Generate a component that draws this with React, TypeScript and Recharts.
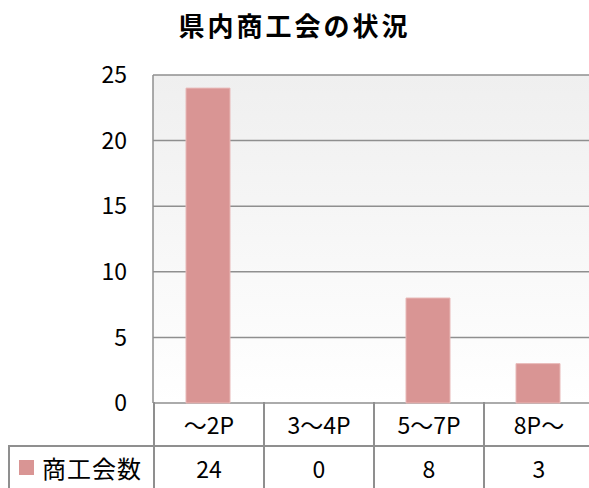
import { BarChart, Bar, XAxis, YAxis, CartesianGrid } from 'recharts';

const categories = ['～2P', '3～4P', '5～7P', '8P～'];
const counts = [24, 0, 8, 3];
const yTicks = [0, 5, 10, 15, 20, 25];
const seriesName = '商工会数';
const title = '県内商工会の状況';

const BAR = '#d99594';
const LINE = '#8f8f8f';
const FONT = "'Noto Sans CJK JP', 'Noto Sans', sans-serif";

const data = categories.map((c, i) => ({ category: c, count: counts[i] }));

const cellBase: React.CSSProperties = {
  boxSizing: 'border-box',
  display: 'flex',
  alignItems: 'center',
  justifyContent: 'center',
  fontSize: 23,
  color: '#000',
};

export default function App() {
  return (
    <div
      style={{
        position: 'absolute',
        left: 0,
        top: 0,
        width: 589,
        height: 488,
        overflow: 'hidden',
        background: '#fff',
        fontFamily: FONT,
      }}
    >
      <div
        style={{
          position: 'absolute',
          top: 6,
          left: 0,
          width: 589,
          textAlign: 'center',
          fontSize: 26,
          fontWeight: 'bold',
          letterSpacing: 3,
        }}
      >
        {title}
      </div>

      <BarChart
        width={600}
        height={488}
        data={data}
        margin={{ top: 75, right: 7, left: 0, bottom: 85 }}
        barCategoryGap="30%"
      >
        <defs>
          <linearGradient id="plotBg" x1="0" y1="0" x2="0" y2="1">
            <stop offset="0%" stopColor="#efefef" />
            <stop offset="100%" stopColor="#ffffff" />
          </linearGradient>
        </defs>
        <CartesianGrid
          vertical={false}
          stroke={LINE}
          strokeWidth={1.5}
          fill="url(#plotBg)"
          fillOpacity={1}
        />
        <XAxis dataKey="category" hide />
        <YAxis
          width={153}
          domain={[0, 25]}
          ticks={yTicks}
          interval={0}
          tickLine={false}
          tickSize={6}
          tickMargin={20}
          axisLine={{ stroke: LINE, strokeWidth: 1.5 }}
          tick={{ fill: '#000', fontSize: 23, fontFamily: FONT }}
        />
        <Bar
          dataKey="count"
          name={seriesName}
          fill={BAR}
          stroke="#e8b8b7"
          strokeWidth={1}
          isAnimationActive={false}
        />
      </BarChart>

      <div
        style={{
          position: 'absolute',
          left: 8,
          top: 402,
          display: 'grid',
          gridTemplateColumns: '145px repeat(4, 110px)',
          gridTemplateRows: '43px 43px',
        }}
      >
        <div />
        {categories.map((c) => (
          <div key={c} style={{ ...cellBase, borderLeft: `2px solid ${LINE}` }}>
            {c}
          </div>
        ))}
        <div
          style={{
            ...cellBase,
            justifyContent: 'flex-start',
            paddingLeft: 9,
            borderLeft: `2px solid ${LINE}`,
            borderTop: `2px solid ${LINE}`,
          }}
        >
          <span
            style={{
              display: 'inline-block',
              width: 15,
              height: 15,
              background: BAR,
              marginRight: 8,
            }}
          />
          <span style={{ fontSize: 24, letterSpacing: 1 }}>{seriesName}</span>
        </div>
        {counts.map((v, i) => (
          <div
            key={categories[i]}
            style={{
              ...cellBase,
              borderLeft: `2px solid ${LINE}`,
              borderTop: `2px solid ${LINE}`,
            }}
          >
            {v}
          </div>
        ))}
      </div>
    </div>
  );
}
